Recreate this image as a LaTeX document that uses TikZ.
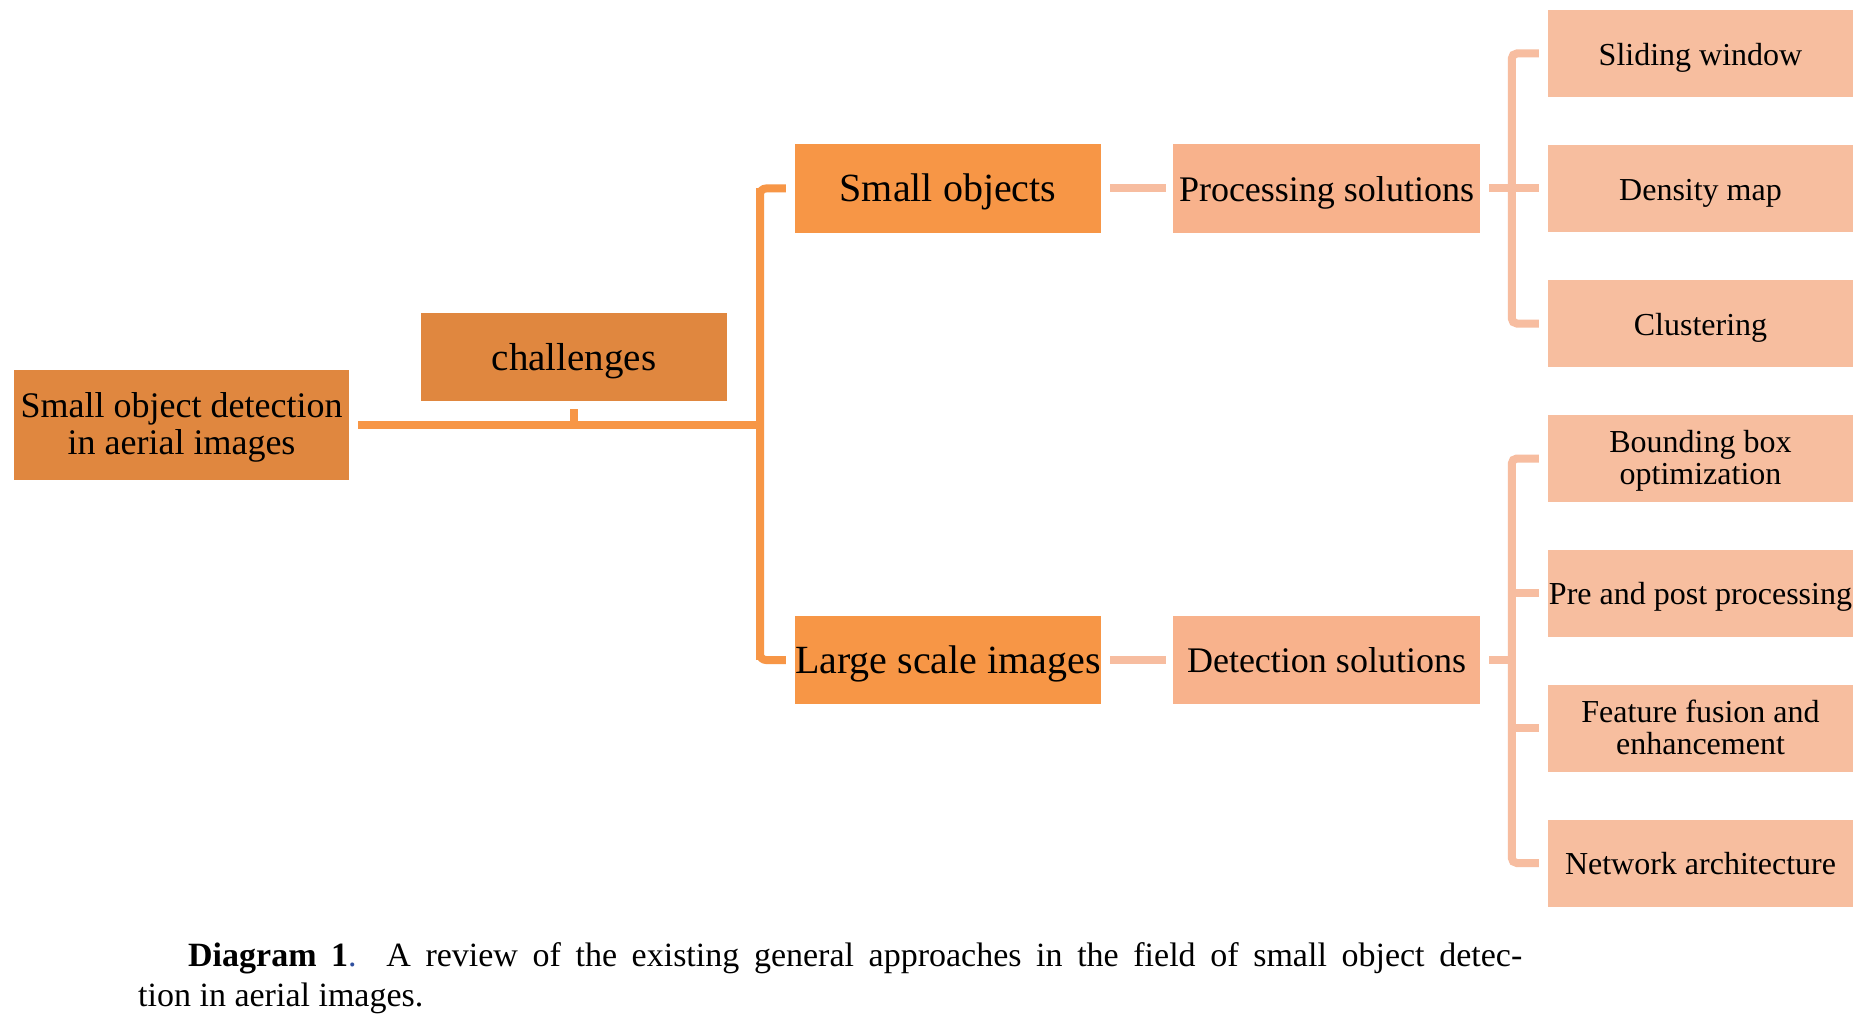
\documentclass[tikz,border=0pt]{standalone}
\usepackage{fontspec}
\setmainfont{Liberation Serif}
\usetikzlibrary{calc}
\definecolor{rootc}{HTML}{E0873F}
\definecolor{midc}{HTML}{F79646}
\definecolor{solc}{HTML}{F8B28C}
\definecolor{leafc}{HTML}{F7BE9F}
\definecolor{olinec}{HTML}{F79646}
\definecolor{plinec}{HTML}{F7BDA0}
\definecolor{capblue}{HTML}{2F4F9F}
\newcommand{\boxtopstrut}{\rule{0pt}{\dimexpr0.69em+5pt\relax}}
\newcommand{\boxbotstrut}{\rule[-0.217em]{0pt}{0pt}}
\begin{document}
\begin{tikzpicture}[x=1pt,y=-1pt,
  box/.style={rectangle, inner sep=0pt, align=center, text=black},
  onel/.style={execute at begin node={\rule[-0.25em]{0pt}{\dimexpr0.973em+8pt\relax}}},
  rootbox/.style={box, fill=rootc, minimum width=335pt, minimum height=110pt, font=\fontsize{36}{37}\selectfont},
  chalbox/.style={box, onel, fill=rootc, minimum width=306pt, minimum height=88pt, font=\fontsize{39}{40}\selectfont},
  midbox/.style={box, onel, fill=midc, minimum width=306pt, minimum height=88pt, font=\fontsize{40}{41}\selectfont},
  solbox/.style={box, onel, fill=solc, minimum width=307pt, minimum height=88pt, font=\fontsize{36}{37}\selectfont},
  leafbox/.style={box, fill=leafc, minimum width=305pt, minimum height=87pt, font=\fontsize{32}{32}\selectfont},
  oline/.style={draw=olinec, line width=8pt},
  pline/.style={draw=plinec, line width=8pt},
]
\useasboundingbox (0,0) rectangle (1875,1022);
\fill[white] (0,0) rectangle (1875,1022);

% nodes
\node[rootbox] (root) at (181.5,425) {\boxtopstrut Small object detection\\in aerial images\boxbotstrut};
\node[chalbox] (chal) at (574,357) {challenges};
\node[midbox] (small) at (948,188.5) {Small objects};
\node[midbox] (large) at (948,660) {Large scale images};
\node[solbox] (proc) at (1326.5,188.5) {Processing solutions};
\node[solbox] (det) at (1326.5,660) {Detection solutions};
\node[leafbox, onel] (l1) at (1700.5,53.5) {Sliding window};
\node[leafbox, onel] (l2) at (1700.5,188.5) {Density map};
\node[leafbox, onel] (l3) at (1700.5,323.5) {Clustering};
\node[leafbox] (l4) at (1700.5,458.5) {\boxtopstrut Bounding box\\optimization\boxbotstrut};
\node[leafbox, onel] (l5) at (1700.5,593) {Pre and post processing};
\node[leafbox] (l6) at (1700.5,728) {\boxtopstrut Feature fusion and\\enhancement\boxbotstrut};
\node[leafbox, onel] (l7) at (1700.5,863) {Network architecture};

% orange trunk
\coordinate (tj) at (760,425);
\draw[oline] ([xshift=9pt]root.east) -- ([xshift=4pt]tj);
\draw[oline] ([yshift=-8pt]chal.south) -- (chal.south |- tj);
\draw[oline, rounded corners=6pt] ([xshift=-9pt]small.west) -| (tj) |- ([xshift=-9pt]large.west);
\draw[oline] (tj |- small.west) -- (tj |- large.west);

% peach connectors
\draw[pline] ([xshift=9pt]small.east) -- ([xshift=-7pt]proc.west);
\draw[pline] ([xshift=9pt]large.east) -- ([xshift=-7pt]det.west);
\coordinate (bx1) at ([xshift=-36pt]l3.west);
\coordinate (bx2) at ([xshift=-36pt]l7.west);
\draw[pline, rounded corners=5pt] ([xshift=-9pt]l1.west) -| (bx1) -- ([xshift=-9pt]l3.west);
\draw[pline] ([xshift=9pt]proc.east) -- ([xshift=-9pt]l2.west);
\draw[pline, rounded corners=5pt] ([xshift=-9pt]l4.west) -| (bx2) -- ([xshift=-9pt]l7.west);
\draw[pline] ([xshift=-9pt]l5.west) -- ([xshift=-40pt]l5.west);
\draw[pline] ([xshift=-9pt]l6.west) -- ([xshift=-40pt]l6.west);
\draw[pline] ([xshift=9pt]det.east) -- ([xshift=4pt]bx2 |- det.east);

% caption
\node[anchor=north west, text width=1384pt, align=justify, inner sep=0pt,
      font=\fontsize{34}{40}\selectfont] (cap) at (138,942)
  {\hspace*{50pt}\textbf{Diagram 1}{\color{capblue}.} A review of the existing general approaches in the field of small object detec-\linebreak tion in aerial images.};
\end{tikzpicture}
\end{document}
